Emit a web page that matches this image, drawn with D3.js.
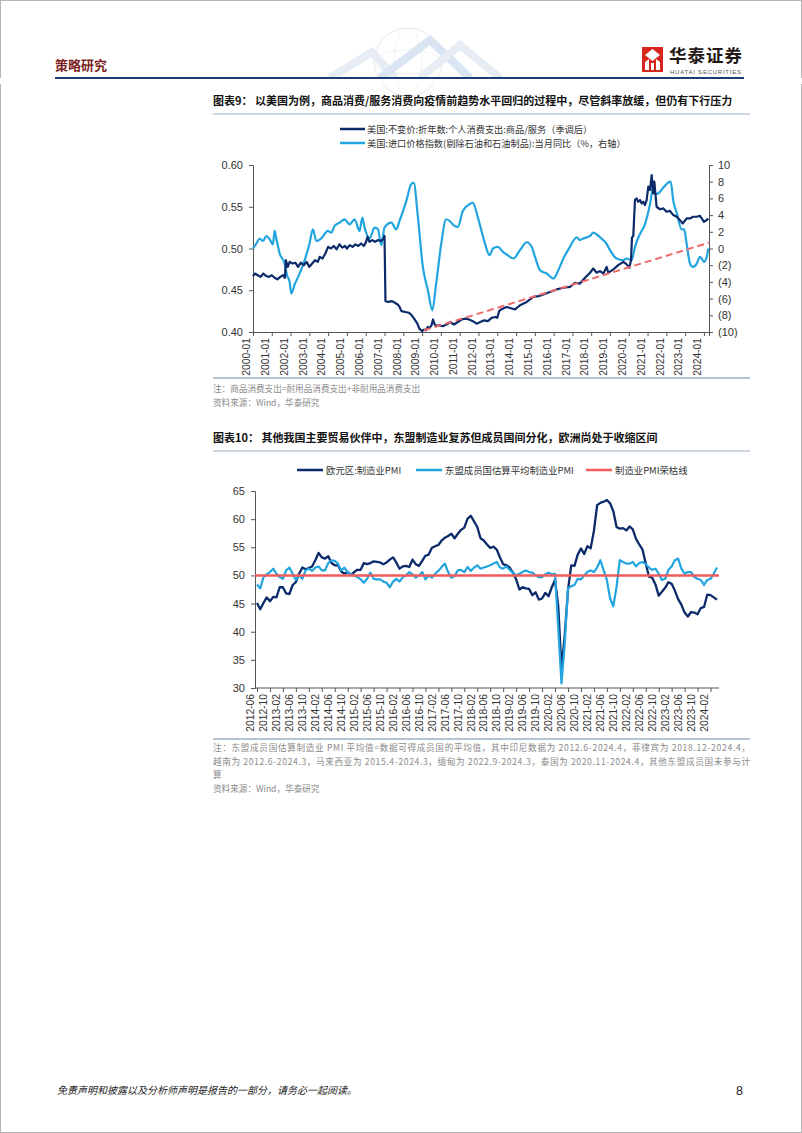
<!DOCTYPE html>
<html><head><meta charset="utf-8">
<script src="https://cdn.jsdelivr.net/npm/d3@7"></script>
<style>
html,body{margin:0;padding:0;background:#fff;}
svg{display:block;}
text{font-family:"Liberation Sans",Arial,"Noto Sans CJK SC",sans-serif;}
.cn{font-family:"Noto Sans CJK SC","Liberation Sans",sans-serif;}
</style></head>
<body>
<script>
// ---------- Chart 1 data (decimal year, value) ----------
const c1YearTicks = d3.range(2000, 2025);
const c1LeftTicks = [0.40, 0.45, 0.50, 0.55, 0.60];
const c1RightTicks = [-10,-8,-6,-4,-2,0,2,4,6,8,10];
const goodsServices = [
 [2000.0,0.467],[2000.1,0.470],[2000.25,0.468],[2000.4,0.466],[2000.55,0.470],[2000.7,0.467],[2000.85,0.466],
 [2001.0,0.468],[2001.15,0.465],[2001.3,0.463],[2001.45,0.466],[2001.6,0.468],[2001.7,0.465],[2001.75,0.486],
 [2001.85,0.478],[2001.95,0.484],[2002.1,0.482],[2002.25,0.483],[2002.4,0.478],[2002.55,0.483],[2002.7,0.480],
 [2002.85,0.484],[2003.0,0.478],[2003.15,0.482],[2003.3,0.486],[2003.45,0.484],[2003.55,0.490],[2003.7,0.488],
 [2003.85,0.494],[2004.0,0.502],[2004.15,0.500],[2004.3,0.503],[2004.45,0.499],[2004.6,0.505],[2004.75,0.501],
 [2004.9,0.503],[2005.0,0.500],[2005.15,0.504],[2005.3,0.502],[2005.45,0.505],[2005.6,0.503],[2005.75,0.506],
 [2005.9,0.503],[2006.0,0.507],[2006.1,0.514],[2006.2,0.508],[2006.35,0.510],[2006.5,0.508],[2006.65,0.510],
 [2006.8,0.509],[2006.95,0.512],[2007.0,0.515],[2007.05,0.437],[2007.2,0.436],[2007.4,0.437],[2007.55,0.435],
 [2007.7,0.433],[2007.8,0.430],[2007.9,0.425],[2008.1,0.424],[2008.3,0.423],[2008.45,0.420],[2008.6,0.415],
 [2008.75,0.410],[2008.85,0.404],[2009.0,0.401],[2009.1,0.403],[2009.2,0.402],[2009.3,0.406],[2009.4,0.405],
 [2009.5,0.408],[2009.58,0.415],[2009.65,0.410],[2009.75,0.407],[2009.9,0.408],[2010.1,0.407],[2010.3,0.409],
 [2010.5,0.412],[2010.7,0.409],[2010.9,0.412],[2011.1,0.415],[2011.3,0.416],[2011.5,0.415],[2011.7,0.413],
 [2011.9,0.410],[2012.1,0.412],[2012.3,0.414],[2012.5,0.413],[2012.7,0.417],[2012.9,0.418],[2013.0,0.417],
 [2013.1,0.425],[2013.2,0.427],[2013.5,0.430],[2013.95,0.427],[2014.21,0.432],[2014.57,0.436],[2014.92,0.442],
 [2015.2,0.443],[2015.45,0.445],[2015.81,0.448],[2016.16,0.451],[2016.52,0.453],[2016.87,0.454],[2017.14,0.459],
 [2017.4,0.458],[2017.67,0.465],[2017.94,0.471],[2018.11,0.476],[2018.29,0.471],[2018.47,0.473],[2018.65,0.470],
 [2018.82,0.478],[2018.91,0.471],[2019.18,0.475],[2019.44,0.480],[2019.71,0.484],[2019.89,0.481],[2020.03,0.477],
 [2020.12,0.486],[2020.17,0.513],[2020.24,0.515],[2020.33,0.558],[2020.42,0.560],[2020.5,0.556],[2020.6,0.558],
 [2020.68,0.554],[2020.77,0.556],[2020.86,0.552],[2020.95,0.558],[2021.04,0.574],[2021.13,0.570],[2021.22,0.588],
 [2021.3,0.566],[2021.36,0.580],[2021.48,0.550],[2021.66,0.547],[2021.84,0.548],[2022.01,0.544],[2022.19,0.545],
 [2022.37,0.540],[2022.55,0.538],[2022.72,0.534],[2022.87,0.530],[2023.08,0.536],[2023.26,0.536],[2023.43,0.538],
 [2023.61,0.538],[2023.79,0.539],[2023.88,0.536],[2024.0,0.532],[2024.15,0.534],[2024.23,0.536]
];
const importPrices = [
 [2000.0,0.0],[2000.18,0.6],[2000.35,1.2],[2000.53,0.9],[2000.71,1.5],[2000.89,1.1],[2001.06,0.5],[2001.15,2.1],
 [2001.24,1.2],[2001.42,-0.6],[2001.68,-1.8],[2001.81,-3.2],[2001.95,-4.0],[2002.04,-5.4],[2002.22,-4.3],
 [2002.48,-3.0],[2002.75,-1.4],[2003.01,0.6],[2003.19,2.3],[2003.37,0.9],[2003.63,1.2],[2003.99,2.1],[2004.17,1.9],
 [2004.34,2.7],[2004.61,3.1],[2004.88,3.5],[2005.0,3.2],[2005.14,2.9],[2005.41,3.5],[2005.67,2.1],[2005.82,3.7],
 [2005.94,2.5],[2006.21,1.2],[2006.47,2.5],[2006.65,2.3],[2006.83,0.4],[2007.0,2.5],[2007.36,3.1],[2007.62,2.3],
 [2007.8,3.3],[2008.16,5.7],[2008.42,7.7],[2008.55,7.9],[2008.78,3.7],[2009.04,-2.2],[2009.31,-5.0],[2009.54,-7.4],
 [2009.75,-4.2],[2010.02,0.6],[2010.28,3.5],[2010.46,3.3],[2010.73,2.7],[2010.9,2.6],[2011.17,4.5],[2011.52,5.3],
 [2011.7,5.5],[2011.97,3.7],[2012.32,0.8],[2012.59,-0.8],[2012.77,0.0],[2013.03,0.2],[2013.3,-0.4],[2013.55,-0.8],
 [2013.86,-1.2],[2014.21,-0.2],[2014.57,0.75],[2014.83,0.2],[2015.01,-1.0],[2015.28,-2.6],[2015.63,-3.0],
 [2015.99,-3.6],[2016.25,-2.6],[2016.52,-1.2],[2016.87,0.2],[2017.23,1.35],[2017.4,1.0],[2017.58,1.2],[2017.94,1.5],
 [2018.11,1.9],[2018.47,1.35],[2018.82,0.56],[2019.0,-0.2],[2019.35,-1.2],[2019.71,-1.4],[2019.89,-1.2],
 [2020.15,-1.4],[2020.33,0.2],[2020.6,1.75],[2020.86,2.9],[2021.13,5.3],[2021.3,7.3],[2021.45,6.5],[2021.62,6.7],
 [2021.84,7.3],[2022.1,7.9],[2022.23,8.0],[2022.37,5.7],[2022.55,4.3],[2022.81,2.3],[2022.95,2.3],[2023.08,0.55],
 [2023.26,-1.8],[2023.4,-2.2],[2023.62,-1.8],[2023.79,-1.0],[2023.88,-1.2],[2024.0,-1.6],[2024.15,-1.0],[2024.23,0.0]
];
const trendLine = [[2009.1,0.402],[2024.27,0.507]];

// ---------- Chart 2 data (monthly, 2012-06 .. 2024-04) ----------
const pmiStart = [2012, 6];
const euroPMI = [
 45.1,44.0,45.1,46.1,45.4,46.2,46.1,
 47.9,47.9,46.8,46.7,48.3,48.8,50.3,51.4,51.1,51.3,51.6,52.7,
 54.0,53.2,53.0,53.4,52.2,51.8,51.8,50.7,50.3,50.6,50.1,50.6,
 51.0,51.0,52.2,52.0,52.2,52.5,52.4,52.3,52.0,52.3,52.8,53.2,
 52.3,51.2,51.6,51.7,51.5,52.8,52.0,51.7,52.6,53.5,53.7,54.9,
 55.2,55.4,56.2,56.7,57.0,57.4,56.6,57.4,58.1,58.5,60.1,60.6,
 59.6,58.6,56.6,56.2,55.5,54.9,55.1,54.6,53.2,52.0,51.8,51.4,
 50.5,49.3,47.5,47.9,47.7,47.6,46.5,47.0,45.7,45.9,46.9,46.3,
 47.9,49.2,44.5,33.4,39.4,47.4,51.8,51.7,53.7,54.8,53.8,55.2,
 54.8,57.9,62.5,62.9,63.1,63.4,62.8,61.4,58.6,58.3,58.4,58.0,
 58.7,58.2,56.5,55.5,54.6,52.1,49.8,49.6,48.4,46.4,47.1,47.8,
 48.8,48.5,47.3,45.8,44.8,43.4,42.7,43.5,43.4,43.1,44.2,44.4,
 46.6,46.5,46.1,45.7
];
const aseanPMI = [
 48.4,47.7,49.7,50.2,50.6,51.2,50.3,49.7,49.4,50.9,51.4,50.3,49.2,50.0,49.4,50.9,51.2,50.8,51.4,51.6,
 50.9,50.9,52.2,52.7,52.6,52.1,50.9,51.4,50.5,50.2,50.0,49.7,49.3,48.7,49.4,50.5,49.4,49.3,49.3,48.9,
 48.7,47.9,48.9,49.4,48.9,49.7,50.0,50.6,50.2,49.6,50.0,50.6,49.3,50.0,49.6,50.3,50.8,51.5,52.1,50.6,
 49.6,49.9,50.9,51.0,50.6,51.5,50.8,51.4,51.8,51.2,51.4,51.6,51.8,52.1,52.4,51.4,51.2,51.6,51.0,50.5,
 50.0,50.3,50.6,50.9,50.6,50.5,50.0,49.7,49.7,50.2,50.5,50.2,50.3,40.6,30.8,37.9,47.7,48.1,48.3,49.4,
 49.3,50.0,50.6,50.9,50.6,51.4,52.7,50.9,49.2,45.9,44.5,48.0,52.7,52.4,52.1,52.1,52.4,51.6,52.2,52.4,
 52.0,51.4,51.0,51.2,50.3,49.2,49.4,51.0,51.6,52.7,53.0,51.2,50.3,50.6,50.6,49.7,49.4,49.2,48.3,49.2,
 49.4,50.3,51.4
];
const pmiThreshold = 50;
const c2YTicks = [30,35,40,45,50,55,60,65];

// ---------- colours ----------
const NAVY = "#0B2A6A", LIGHT = "#22A4DF", RED = "#F35B5B", TREND = "#EE6A6A";

const W = 802, H = 1133;
const svg = d3.select("body").append("svg").attr("width", W).attr("height", H);
svg.append("rect").attr("x",0.5).attr("y",0.5).attr("width",W-1).attr("height",H-1)
  .attr("fill","#fff").attr("stroke","#b5b5b5").attr("stroke-width",1);

// ---------- header ----------
const deco = svg.append("g").attr("opacity",0.28);
deco.append("circle").attr("cx",408).attr("cy",62).attr("r",34).attr("fill","none").attr("stroke","#9fb3c8").attr("stroke-width",1);
deco.append("ellipse").attr("cx",408).attr("cy",62).attr("rx",34).attr("ry",12).attr("fill","none").attr("stroke","#b8c8d8").attr("stroke-width",0.8);
deco.append("ellipse").attr("cx",408).attr("cy",62).attr("rx",14).attr("ry",34).attr("fill","none").attr("stroke","#b8c8d8").attr("stroke-width",0.8);
[[330,78,372,52,395,78],[380,78,430,40,470,78],[420,78,460,45,500,78]].forEach((p,i)=>{
  deco.append("path").attr("d",`M${p[0]},${p[1]}L${p[2]},${p[3]}L${p[4]},${p[5]}`)
   .attr("fill","none").attr("stroke",i===1?"#7aa6d6":"#a9c2dc").attr("stroke-width",8);
});
svg.append("rect").attr("x",0).attr("y",78).attr("width",W).attr("height",6).attr("fill","#fff");

svg.append("text").attr("class","cn").attr("x",55).attr("y",70).attr("font-size",13).attr("font-weight","bold")
  .attr("fill","#7d1f1f").text("策略研究");
// logo
const lg = svg.append("g");
lg.append("rect").attr("x",642).attr("y",47).attr("width",21).attr("height",25).attr("fill","#d7261e");
lg.append("path").attr("d","M645,55L652.5,49L660,55L652.5,61Z").attr("fill","#fff");
lg.append("path").attr("d","M645,62L649,59L649,70L645,70Z M656,59L660,62L660,70L656,70Z M651,63L654,63L654,70L651,70Z").attr("fill","#fff");
lg.append("text").attr("class","cn").attr("x",669).attr("y",62).attr("font-size",17.5).attr("font-weight","bold")
  .attr("fill","#231815").attr("textLength",73).text("华泰证券");
lg.append("text").attr("x",670).attr("y",74).attr("font-size",6).attr("fill","#555").attr("textLength",71).text("HUATAI SECURITIES");
svg.append("line").attr("x1",55).attr("x2",744).attr("y1",78).attr("y2",78).attr("stroke","#1c3d74").attr("stroke-width",2);

// ---------- helpers ----------
function title(y, txt){
  svg.append("text").attr("class","cn").attr("x",213).attr("y",y).attr("font-size",11).attr("font-weight","bold")
    .attr("fill","#111").text(txt);
  svg.append("line").attr("x1",213).attr("x2",750).attr("y1",y+9).attr("y2",y+9).attr("stroke","#9aaec4").attr("stroke-width",1);
}
function noteBlock(ySep, lines){
  svg.append("line").attr("x1",213).attr("x2",750).attr("y1",ySep).attr("y2",ySep).attr("stroke","#b4c4d4").attr("stroke-width",2.2);
  lines.forEach(l=>{
    const t = svg.append("text").attr("class","cn").attr("x",213).attr("y",l.y).attr("font-size",8.6).attr("fill","#8a8a8a").text(l.t);
    if(l.len) t.attr("textLength",l.len).attr("lengthAdjust","spacing");
  });
}
const fmtRight = v => v < 0 ? `(${-v})` : `${v}`;

// ---------- Chart 1 ----------
title(105, "图表9：  以美国为例，商品消费/服务消费向疫情前趋势水平回归的过程中，尽管斜率放缓，但仍有下行压力");
const x1 = d3.scaleLinear().domain([2000, 2024.27]).range([253, 709]);
const yL = d3.scaleLinear().domain([0.40, 0.60]).range([332, 165]);
const yR = d3.scaleLinear().domain([-10, 10]).range([332, 165]);

// legend 1
const leg1 = [
  {c:NAVY, t:"美国:不变价:折年数:个人消费支出:商品/服务（季调后）", y:129},
  {c:LIGHT, t:"美国:进口价格指数(剔除石油和石油制品):当月同比（%，右轴）", y:143}
];
leg1.forEach(d=>{
  svg.append("line").attr("x1",340).attr("x2",365).attr("y1",d.y).attr("y2",d.y).attr("stroke",d.c).attr("stroke-width",2.5);
  svg.append("text").attr("class","cn").attr("x",367).attr("y",d.y+3.5).attr("font-size",9.2).attr("fill","#333").text(d.t);
});

const g1 = svg.append("g");
const axL = g1.append("g").attr("transform","translate(253,0)")
  .call(d3.axisLeft(yL).tickValues(c1LeftTicks).tickFormat(d3.format(".2f")).tickSize(4).tickPadding(6));
const axR = g1.append("g").attr("transform","translate(709,0)")
  .call(d3.axisRight(yR).tickValues(c1RightTicks).tickFormat(fmtRight).tickSize(4).tickPadding(5));
const axX1 = g1.append("g").attr("transform","translate(0,332)")
  .call(d3.axisBottom(x1).tickValues(c1YearTicks).tickFormat(d=>`${d}-01`).tickSize(4));
axX1.selectAll("text").attr("transform","rotate(-90)").attr("text-anchor","end").attr("dx","-6").attr("dy","-0.32em").attr("y",0).attr("x",0)
  .attr("font-size",10.3);
[axL,axR].forEach(a=>a.selectAll("text").attr("font-size",11));
[axL,axR,axX1].forEach(a=>{
  a.selectAll("path,line").attr("stroke","#555");
  a.selectAll("text").attr("fill","#333").attr("font-family","Liberation Sans, Arial, sans-serif");
});

const line1L = d3.line().x(d=>x1(d[0])).y(d=>yL(d[1]));
const line1R = d3.line().x(d=>x1(d[0])).y(d=>yR(d[1])).curve(d3.curveMonotoneX);
g1.append("path").datum(importPrices).attr("d",line1R).attr("fill","none").attr("stroke",LIGHT).attr("stroke-width",2.2).attr("stroke-linejoin","round");
g1.append("path").datum(goodsServices).attr("d",line1L).attr("fill","none").attr("stroke",NAVY).attr("stroke-width",2.2).attr("stroke-linejoin","round");
g1.append("path").datum(trendLine).attr("d",line1L).attr("fill","none").attr("stroke",TREND).attr("stroke-width",2).attr("stroke-dasharray","7,4");

noteBlock(378, [
  {t:"注：商品消费支出=耐用品消费支出+非耐用品消费支出", y:392},
  {t:"资料来源：Wind，华泰研究", y:406}
]);

// ---------- Chart 2 ----------
title(442, "图表10：  其他我国主要贸易伙伴中，东盟制造业复苏但成员国间分化，欧洲尚处于收缩区间");
const leg2 = [
  {c:NAVY, t:"欧元区:制造业PMI", x:297},
  {c:LIGHT, t:"东盟成员国估算平均制造业PMI", x:416},
  {c:RED, t:"制造业PMI荣枯线", x:586}
];
leg2.forEach(d=>{
  svg.append("line").attr("x1",d.x).attr("x2",d.x+26).attr("y1",470).attr("y2",470).attr("stroke",d.c).attr("stroke-width",2.5);
  svg.append("text").attr("class","cn").attr("x",d.x+29).attr("y",473.5).attr("font-size",9.4).attr("fill","#333").text(d.t);
});

const nM = euroPMI.length;
const x2 = d3.scaleLinear().domain([0, nM-1]).range([257, 717]);
const y2 = d3.scaleLinear().domain([30, 65]).range([688, 491]);
const monthLabel = i => {
  const t = pmiStart[0]*12 + (pmiStart[1]-1) + i;
  return `${Math.floor(t/12)}-${String(t%12+1).padStart(2,"0")}`;
};
const tickIdx = d3.range(0, nM, 4);
const g2 = svg.append("g");
const axY2 = g2.append("g").attr("transform","translate(255,0)")
  .call(d3.axisLeft(y2).tickValues(c2YTicks).tickSize(4).tickPadding(6));
const axX2 = g2.append("g").attr("transform","translate(0,688)")
  .call(d3.axisBottom(x2).tickValues(tickIdx).tickFormat(monthLabel).tickSize(4));
axX2.select(".domain").attr("d","M255,0H719");
axX2.selectAll("text").attr("transform","rotate(-90)").attr("text-anchor","end").attr("dx","-6").attr("dy","-0.32em").attr("y",0).attr("x",0)
  .attr("font-size",10.3);
axY2.selectAll("text").attr("font-size",11);
[axY2,axX2].forEach(a=>{
  a.selectAll("path,line").attr("stroke","#555");
  a.selectAll("text").attr("fill","#333").attr("font-family","Liberation Sans, Arial, sans-serif");
});
const line2 = d3.line().x((d,i)=>x2(i)).y(d=>y2(d));
g2.append("path").datum(euroPMI).attr("d",line2).attr("fill","none").attr("stroke",NAVY).attr("stroke-width",2.3).attr("stroke-linejoin","round");
g2.append("path").datum(aseanPMI).attr("d",line2).attr("fill","none").attr("stroke",LIGHT).attr("stroke-width",2.2).attr("stroke-linejoin","round");
g2.append("line").attr("x1",255).attr("x2",719).attr("y1",y2(pmiThreshold)).attr("y2",y2(pmiThreshold))
  .attr("stroke",RED).attr("stroke-width",2.5);

noteBlock(739, [
  {t:"注：东盟成员国估算制造业 PMI 平均值=数据可得成员国的平均值，其中印尼数据为 2012.6-2024.4，菲律宾为 2018.12-2024.4，", y:751, len:537},
  {t:"越南为 2012.6-2024.3，马来西亚为 2015.4-2024.3，缅甸为 2022.9-2024.3，泰国为 2020.11-2024.4，其他东盟成员国未参与计", y:765, len:537},
  {t:"算", y:778},
  {t:"资料来源：Wind，华泰研究", y:792}
]);

// ---------- footer ----------
svg.append("text").attr("class","cn").attr("x",57).attr("y",1094).attr("font-size",10).attr("font-style","italic")
  .attr("fill","#222").text("免责声明和披露以及分析师声明是报告的一部分，请务必一起阅读。");
svg.append("text").attr("x",736).attr("y",1095).attr("font-size",12.5).attr("fill","#222").text("8");
</script>
</body></html>
